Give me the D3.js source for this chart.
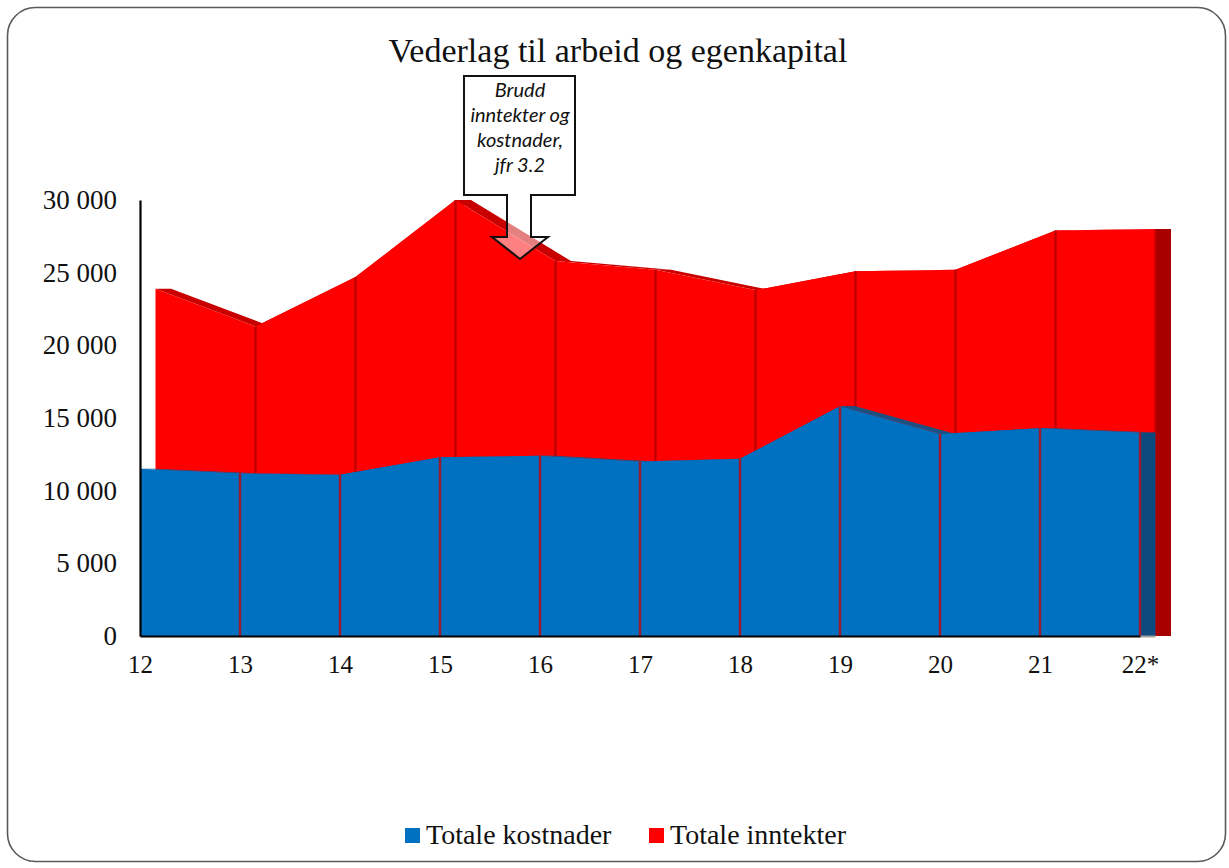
<!DOCTYPE html>
<html>
<head>
<meta charset="utf-8">
<script src="https://cdn.jsdelivr.net/npm/d3@7"></script>
<style>
  html, body { margin: 0; padding: 0; background: #fff; }
  svg { display: block; }
</style>
</head>
<body>
<svg id="chart" width="1229" height="868"></svg>
<script>
// Categories (years) and the two series, in NOK million
const categories = ["12", "13", "14", "15", "16", "17", "18", "19", "20", "21", "22*"];
const kostnader = [11500, 11200, 11100, 12300, 12400, 12000, 12200, 15800, 13900, 14300, 14000];
const inntekter = [23900, 21300, 24700, 30000, 25800, 25200, 23800, 25100, 25200, 27900, 28000];
const yTicks = [0, 5000, 10000, 15000, 20000, 25000, 30000];
const seriesNames = ["Totale kostnader", "Totale inntekter"];
const calloutLines = ["Brudd", "inntekter og", "kostnader,", "jfr 3.2"];

const svg = d3.select("#chart");

// outer rounded frame
svg.append("rect")
  .attr("x", 7.5).attr("y", 7.5)
  .attr("width", 1218).attr("height", 854)
  .attr("rx", 28).attr("ry", 28)
  .attr("fill", "#fff")
  .attr("stroke", "#5a5a5a").attr("stroke-width", 1.6);

const x = d3.scalePoint().domain(categories).range([140, 1140]);
const y = d3.scaleLinear().domain([0, 30000]).range([636, 200]);

const depth = 15.5; // oblique depth of each series ribbon

// each series is a ribbon: front face, visible top band, and right end cap
const series = [
  { name: seriesNames[1], values: inntekter, front: depth, face: "#ff0000", top: "#c80000", side: "#a80000", line: "#c00000" },
  { name: seriesNames[0], values: kostnader, front: 0, face: "#0070c0", top: "#1d4f80", side: "#0d4a7e", line: "#a01830" }
];

const g = svg.append("g");

series.forEach(s => {
  const f = s.front, b = s.front + depth;
  const pts = categories.map((c, i) => ({ x: x(c), v: s.values[i] }));
  const sg = g.append("g");

  // top surface strips (seen on falling segments)
  d3.pairs(pts).forEach(([p, q]) => {
    sg.append("path")
      .attr("d", `M${p.x + f},${y(p.v)}L${q.x + f},${y(q.v)}L${q.x + b},${y(q.v)}L${p.x + b},${y(p.v)}Z`)
      .attr("fill", s.top);
  });

  // right end cap
  const last = pts[pts.length - 1];
  sg.append("path")
    .attr("d", `M${last.x + f},${y(last.v)}L${last.x + b},${y(last.v)}L${last.x + b},${y(0)}L${last.x + f},${y(0)}Z`)
    .attr("fill", s.side);

  // front face
  const area = d3.area()
    .x(d => d.x + f)
    .y0(y(0))
    .y1(d => y(d.v));
  sg.append("path")
    .datum(pts)
    .attr("d", area)
    .attr("fill", s.face);

  // segment dividers on the front face
  sg.selectAll("line.div")
    .data(pts.slice(1))
    .join("line")
    .attr("x1", d => d.x + f).attr("x2", d => d.x + f)
    .attr("y1", d => y(d.v)).attr("y2", y(0))
    .attr("stroke", s.line).attr("stroke-width", 2.4);
});

// floor under the end cap
svg.append("line")
  .attr("x1", 1140).attr("x2", 1140 + depth)
  .attr("y1", y(0) + 0.5).attr("y2", y(0) + 0.5)
  .attr("stroke", "#a0a0a0").attr("stroke-width", 2);

// thousands separated by a space
const fmt = d3.formatLocale({ decimal: ",", thousands: "\u00a0", grouping: [3], currency: ["", ""] }).format(",d");

const yAxis = svg.append("g")
  .attr("transform", "translate(140,0)")
  .call(d3.axisLeft(y).tickValues(yTicks).tickSize(0).tickSizeOuter(0).tickPadding(23).tickFormat(fmt));
yAxis.select(".domain").attr("stroke", "#000").attr("stroke-width", 2.2);
yAxis.selectAll("text")
  .attr("font-family", "Liberation Serif, Times New Roman, serif")
  .attr("font-size", 27).attr("fill", "#111");

const xAxis = svg.append("g")
  .attr("transform", `translate(0,${y(0)})`)
  .call(d3.axisBottom(x).tickSize(0).tickSizeOuter(0).tickPadding(19));
xAxis.select(".domain").attr("stroke", "#000").attr("stroke-width", 2.2);
xAxis.selectAll("text")
  .attr("font-family", "Liberation Serif, Times New Roman, serif")
  .attr("font-size", 25).attr("fill", "#111");

// title
svg.append("text")
  .attr("x", 618).attr("y", 62)
  .attr("text-anchor", "middle")
  .attr("font-family", "Liberation Serif, Times New Roman, serif")
  .attr("font-size", 34).attr("fill", "#111")
  .text("Vederlag til arbeid og egenkapital");

// callout arrow pointing to the break between 15 and 16
const co = { l: 464, r: 575, t: 76, b: 195, sl: 507, sr: 531, hy: 237, hl: 492, hr: 548, tipx: 520, tipy: 259 };
svg.append("path")
  .attr("d", `M${co.l},${co.t}H${co.r}V${co.b}H${co.sr}V${co.hy}H${co.hr}L${co.tipx},${co.tipy}L${co.hl},${co.hy}H${co.sl}V${co.b}H${co.l}Z`)
  .attr("fill", "rgba(255,255,255,0.5)")
  .attr("stroke", "#111").attr("stroke-width", 2);
svg.append("rect")
  .attr("x", co.l + 1).attr("y", co.t + 1)
  .attr("width", co.r - co.l - 2).attr("height", co.b - co.t - 2)
  .attr("fill", "#fff");
svg.append("text")
  .attr("font-family", "Lato, Open Sans, sans-serif")
  .attr("font-style", "italic")
  .attr("font-size", 20).attr("fill", "#111")
  .attr("text-anchor", "middle")
  .selectAll("tspan")
  .data(calloutLines)
  .join("tspan")
  .attr("x", 520)
  .attr("y", (d, i) => 97 + i * 25)
  .text(d => d);

// legend
const legend = [
  { name: seriesNames[0], color: "#0070c0", x: 405 },
  { name: seriesNames[1], color: "#ff0000", x: 649 }
];
const lg = svg.append("g");
legend.forEach(d => {
  lg.append("rect")
    .attr("x", d.x).attr("y", 828)
    .attr("width", 15).attr("height", 15)
    .attr("fill", d.color);
  lg.append("text")
    .attr("x", d.x + 21).attr("y", 844)
    .attr("font-family", "Liberation Serif, Times New Roman, serif")
    .attr("font-size", 28).attr("fill", "#111")
    .text(d.name);
});
</script>
</body>
</html>
